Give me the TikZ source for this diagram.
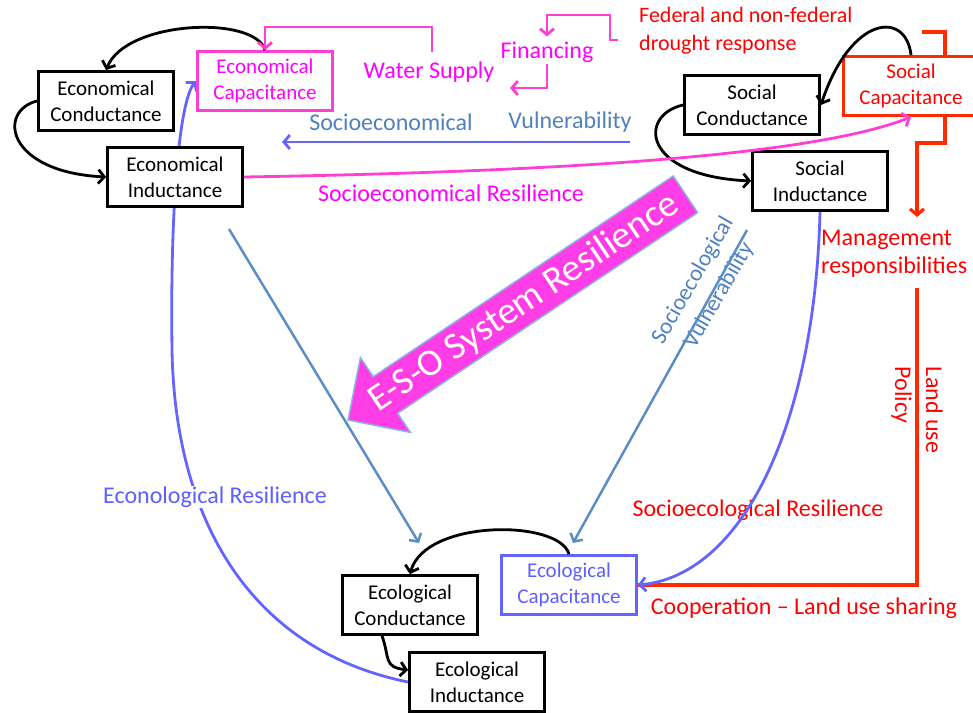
\documentclass[tikz,border=0pt]{standalone}
\usepackage{fontspec}
\setmainfont{Carlito}
\usetikzlibrary{arrows.meta, calc, backgrounds}
\definecolor{magtext}{HTML}{FF00FF}
\definecolor{magline}{HTML}{FF3FD4}
\definecolor{redtext}{HTML}{FF0000}
\definecolor{redline}{HTML}{FF2A00}
\definecolor{bluetext}{HTML}{5F5FFF}
\definecolor{blueline}{HTML}{6464FF}
\definecolor{steeltext}{HTML}{4F81BD}
\definecolor{steelline}{HTML}{5B8EC4}
\definecolor{esofill}{HTML}{FF3DE6}
\definecolor{esoline}{HTML}{8DB3E2}
\newcommand\bxfont{\fontsize{21}{26}\selectfont}
\newcommand\lbfont{\fontsize{24}{28}\selectfont}

\begin{document}
\begin{tikzpicture}[x=1pt, y=-1pt,
  box/.style={rectangle, draw=black, fill=white, line width=2.8pt, minimum width=135pt, minimum height=59pt, inner sep=2pt, align=center, font=\bxfont},
  lbl/.style={inner sep=1pt, font=\lbfont},
  tip/.style={-{Straight Barb[length=6pt, width=14pt]}},
  blk/.style={tip, draw=black, line width=2.8pt},
  magarrow/.style={tip, draw=magline, line width=2.8pt},
  redarrow/.style={tip, draw=redline, line width=3.2pt},
  bluearrow/.style={tip, draw=blueline, line width=2.8pt},
  steelarrow/.style={tip, draw=steelline, line width=2.5pt}
]
  \useasboundingbox (0,0) rectangle (973,712);

  % Economical
  \node[box] (econd) at (106,101) {Economical\\Conductance};
  \node[box] (eind) at (175,177) {Economical\\Inductance};
  \node[box, draw=magline, text=magtext] (ecap) at (265,81) {Economical\\Capacitance};

  % Social
  \node[box] (scond) at (752,105) {Social\\Conductance};
  \node[box] (sind) at (820,181) {Social\\Inductance};
  \node[box, draw=redline, text=redtext] (scap) at (911,86) {Social\\Capacitance};

  % Ecological
  \node[box] (ocond) at (410,605) {Ecological\\Conductance};
  \node[box] (oind) at (477,682) {Ecological\\Inductance};
  \node[box, draw=blueline, text=bluetext] (ocap) at (569,585) {Ecological\\Capacitance};

  % Labels
  \node[lbl, text=magtext] (watersup) at (429,72) {Water Supply};
  \node[lbl, text=magtext] (fin) at (547,52) {Financing};
  \node[lbl, text=redtext, align=left, anchor=west, font=\fontsize{22}{28}\selectfont] (fed) at (638,31) {Federal and non-federal\\drought response};
  \node[lbl, text=steeltext] (seconom) at (391,122) {Socioeconomical};
  \node[lbl, text=steeltext] (svuln) at (570,122) {Vulnerability};
  \node[lbl, text=magtext] (seres) at (451,193) {Socioeconomical Resilience};
  \node[lbl, text=redtext, align=left, anchor=west] (mgmt) at (820,254) {Management\\responsibilities};
  \node[lbl, text=redtext] (sores) at (758,510) {Socioecological Resilience};
  \node[lbl, text=redtext] (coop) at (804,608) {Cooperation -- Land use sharing};
  \node[lbl, text=redtext, rotate=-90, align=left, font=\fontsize{24}{31}\selectfont] (landuse) at (917,410) {Land use\\Policy};
  \node[lbl, text=bluetext, fill=white] (ecores) at (215,497) {Econological Resilience};
  \node[text=steeltext, rotate=60, align=center, inner sep=1pt, font=\fontsize{23}{30}\selectfont] (sovuln) at (706,288) {Socioecological\\Vulnerability};

  % Free ends
  \coordinate (wsout) at (432,52);
  \coordinate (fedout) at (618,40);
  \coordinate (wsin) at (510,88);
  \coordinate (vulnout) at (630,142);
  \coordinate (vulnin) at (282,142);
  \coordinate (bracketout) at (922,32);
  \coordinate (mgmtin) at (917,217);
  \coordinate (mgmtout) at (917,288);
  \coordinate (evulnout) at (229,229);
  \coordinate (evulnin) at (419,543);
  \coordinate (svulnout) at (747,230);
  \coordinate (svulnin) at (573,543);

  % Black loops
  \draw[blk] (ecap.north) .. controls +(-10,-35) and +(20,-50) .. (econd.north);
  \draw[blk] (econd.west) .. controls +(-40,10) and +(-100,-5) .. (eind.west);
  \draw[blk] (scap.north) .. controls +(-5,-45) and +(30,-90) .. (scond.east);
  \draw[blk] (scond.west) .. controls +(-45,10) and +(-110,-5) .. (sind.west);
  \draw[blk] (ocap.north) .. controls +(-10,-35) and +(15,-55) .. (ocond.north);
  \draw[blk] ([xshift=-28pt]ocond.south) .. controls +(8,22) and +(-25,-3) .. ([yshift=12pt]oind.west);

  % Pink flows
  \draw[magarrow] (wsout) -- ++(0,-25) -| (ecap.north);
  \draw[magarrow] (fedout) -- ++(-8,0) -- ++(0,-25) -| ([yshift=4pt]fin.north);
  \draw[magarrow] (fin.south) |- (wsin);
  \draw[magarrow] (eind.east) .. controls +(300,-5) and +(-100,40) .. (scap.south);

  % Vulnerability
  \draw[bluearrow] (vulnout) -- (vulnin);
  \draw[steelarrow] (evulnout) -- (evulnin);
  \draw[steelarrow] (svulnout) -- (svulnin);

  % Red flows and resilience curves
  \begin{scope}[on background layer]
    \draw[redarrow] (bracketout) -- ++(23,0) -- ++(0,111) -- ++(-28,0) -- (mgmtin);
    \draw[redline, line width=3.2pt] (mgmtout) |- (ocap.east);
    \draw[bluearrow] (oind.west) .. controls (250,650) and (175,520) .. (172,350)
      .. controls (170,200) and (180,100) .. (ecap.west);
  \end{scope}
  \draw[bluearrow] (sind.south) .. controls (815,420) and (745,575) .. (ocap.east);

  % E-S-O arrow
  \filldraw[fill=esofill, draw=esoline, line width=1.5pt] (348,420) -- (360.4,357.6) -- (373.2,376.7) -- (673.2,176) -- (697.6,212.6) -- (397.6,413.3) -- (410.4,432.4) -- cycle;
  \node[rotate=33.8, text=white, font=\fontsize{38}{42}\selectfont] (eso) at (524,303) {E-S-O System Resilience};
\end{tikzpicture}
\end{document}
